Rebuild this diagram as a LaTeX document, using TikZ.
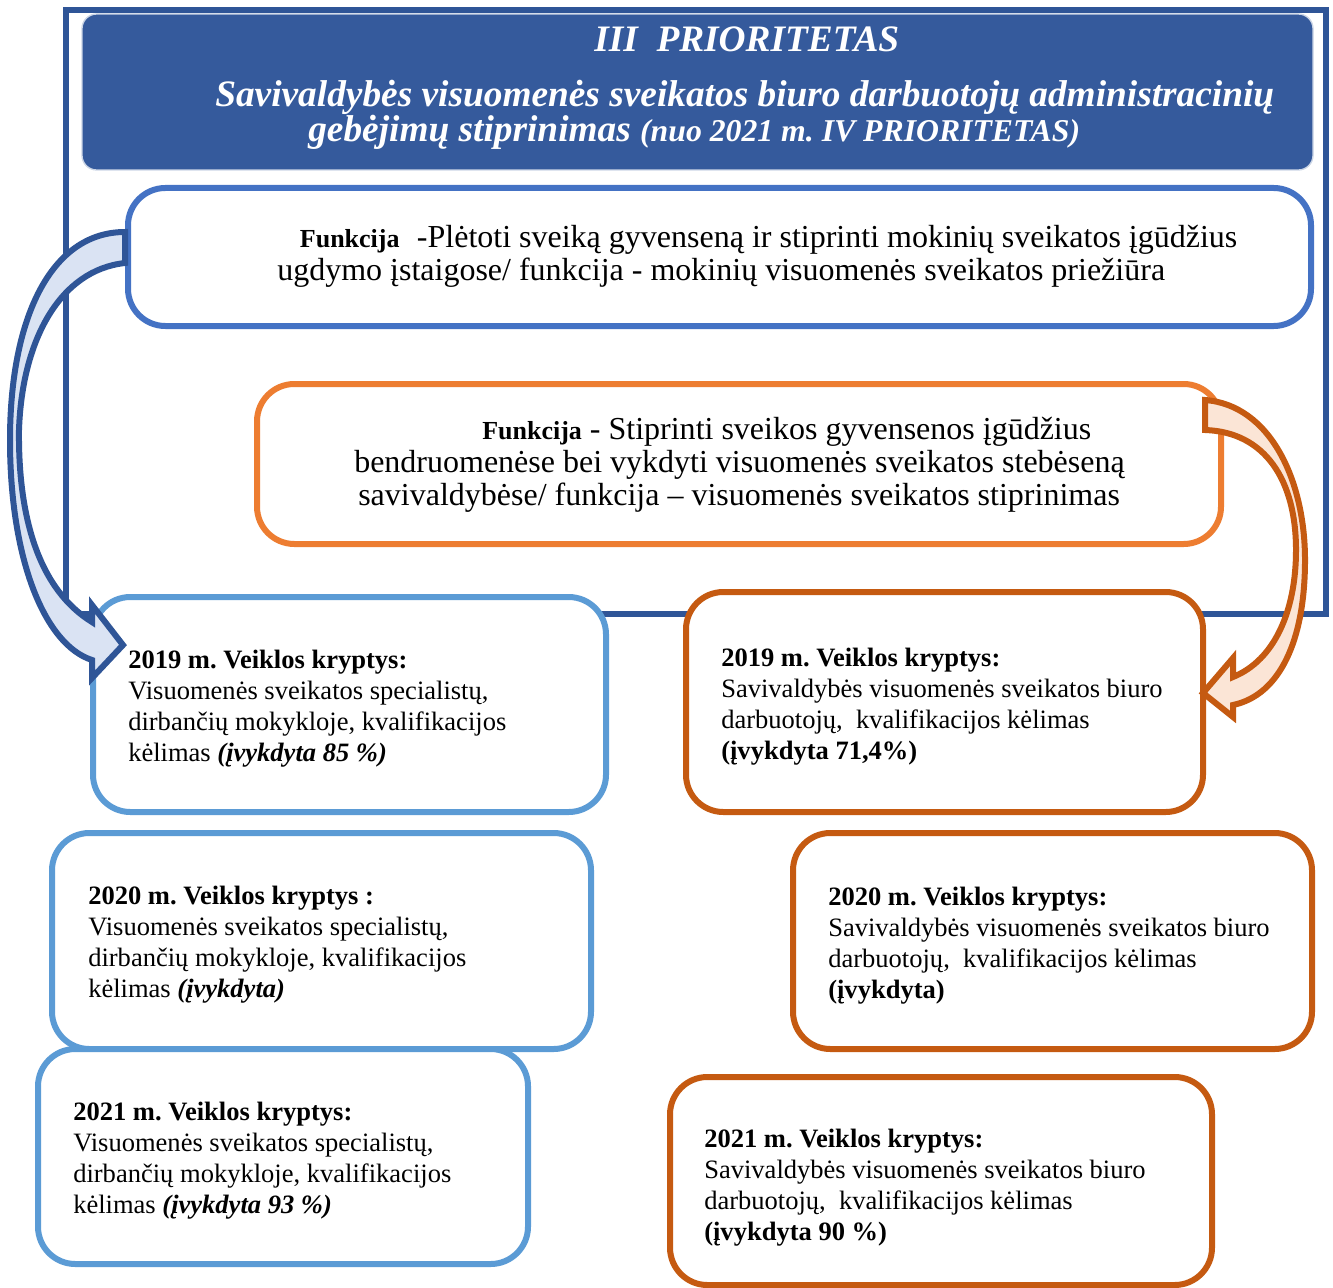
\documentclass[tikz,border=0pt]{standalone}
\usepackage{fontspec}
\setmainfont{Liberation Serif}
\usetikzlibrary{fit}
\definecolor{frameblue}{HTML}{2F5597}
\definecolor{hdrblue}{HTML}{355A9C}
\definecolor{fblue}{HTML}{4472C4}
\definecolor{lblue}{HTML}{5B9BD5}
\definecolor{forange}{HTML}{ED7D31}
\definecolor{dorange}{HTML}{C55A11}
\definecolor{arrblue}{HTML}{DAE3F3}
\definecolor{arrorange}{HTML}{FBE5D6}
\frenchspacing
\begin{document}
\begin{tikzpicture}[x=0.75pt,y=-0.75pt,
  box/.style={draw, line width=4.5pt, fill=white, inner sep=0pt, rounded corners=28pt},
  bluebox/.style={box, draw=lblue},
  orangebox/.style={box, draw=dorange},
  txt/.style={inner sep=0pt, anchor=north west, align=left, font=\fontsize{19.9}{23.25}\selectfont},
  ftxt/.style={inner sep=0pt, anchor=north west, align=left, font=\fontsize{24}{24.75}\selectfont},
  hdr/.style={inner sep=0pt, anchor=base west, text=white, font=\fontsize{28}{30}\selectfont\bfseries\itshape},
  blockarrow/.style={line width=4.5pt, line join=miter, miter limit=4}
]
\useasboundingbox (0,0) rectangle (1333,1287);
% outer frame
\draw[frameblue, line width=4.5pt] (66,10) rectangle (1326,614);
% header
\node[fill=hdrblue, draw=white!75!hdrblue, line width=1pt, inner sep=0pt, rounded corners=11pt,
      fit={(82,14)(1313,170)}] (header) {};
\node[hdr] (h1) at (594,52) {III\ \ PRIORITETAS};
\node[hdr] (h2) at (215,107) {Savivaldybės visuomenės sveikatos biuro darbuotojų administracinių};
\node[hdr] (h3) at (308,142) {gebėjimų stiprinimas {\fontsize{23.8}{26}\selectfont (nuo 2021 m. IV PRIORITETAS)}};
% function boxes
\node[box, draw=fblue, fit={(128,188)(1311,326)}] (f1) {};
\node[box, draw=forange, fit={(257,384)(1221,544)}] (f2) {};
\node[ftxt] (f1t) at (277,225) {\hspace*{17pt}{\fontsize{19.5}{20}\selectfont\bfseries Funkcija}\hspace{13pt}-Plėtoti sveiką gyvenseną ir stiprinti mokinių sveikatos įgūdžius\\
ugdymo įstaigose/ funkcija - mokinių visuomenės sveikatos priežiūra};
\node[ftxt] (f2t) at (354,417) {\hspace*{96pt}{\fontsize{19.5}{20}\selectfont\bfseries Funkcija} - Stiprinti sveikos gyvensenos įgūdžius\\
bendruomenėse bei vykdyti visuomenės sveikatos stebėseną\\
\hspace*{3pt}savivaldybėse/ funkcija – visuomenės sveikatos stiprinimas};
% left boxes
\node[bluebox, fit={(93,597)(606,812)}] (l19) {};
\node[bluebox, fit={(52,833)(591,1049)}] (l20) {};
\node[bluebox, fit={(38,1049)(528,1264)}] (l21) {};
% right boxes
\node[orangebox, fit={(686,592)(1203,812)}] (r19) {};
\node[orangebox, fit={(793,833)(1312,1049)}] (r20) {};
\node[orangebox, fit={(670,1077)(1212,1285)}] (r21) {};
% texts
\node[txt] (l19t) at (128,650) {\textbf{2019 m. Veiklos kryptys:}\\Visuomenės sveikatos specialistų,\\dirbančių mokykloje, kvalifikacijos\\kėlimas \textbf{\textit{(įvykdyta 85 \%)}}};
\node[txt] (l20t) at (88,886) {\textbf{2020 m. Veiklos kryptys :}\\Visuomenės sveikatos specialistų,\\dirbančių mokykloje, kvalifikacijos\\kėlimas \textbf{\textit{(įvykdyta)}}};
\node[txt] (l21t) at (73,1102) {\textbf{2021 m. Veiklos kryptys:}\\Visuomenės sveikatos specialistų,\\dirbančių mokykloje, kvalifikacijos\\kėlimas \textbf{\textit{(įvykdyta 93 \%)}}};
\node[txt] (r19t) at (721,648) {\textbf{2019 m. Veiklos kryptys:}\\Savivaldybės visuomenės sveikatos biuro\\darbuotojų,\ \ kvalifikacijos kėlimas\\\textbf{(įvykdyta 71,4\%)}};
\node[txt] (r20t) at (828,887) {\textbf{2020 m. Veiklos kryptys:}\\Savivaldybės visuomenės sveikatos biuro\\darbuotojų,\ \ kvalifikacijos kėlimas\\\textbf{(įvykdyta)}};
\node[txt] (r21t) at (704,1129) {\textbf{2021 m. Veiklos kryptys:}\\Savivaldybės visuomenės sveikatos biuro\\darbuotojų,\ \ kvalifikacijos kėlimas\\\textbf{(įvykdyta 90 \%)}};
% left curved block arrow
\draw[blockarrow, draw=frameblue, fill=arrblue]
  (125,232) .. controls (50,232) and (10,320) .. (10,440)
  .. controls (10,560) and (45,645) .. (92,660)
  -- (92,678) -- (123,645) -- (92,605) -- (92,622)
  .. controls (40,590) and (18,520) .. (19,430)
  .. controls (22,340) and (60,270) .. (125,263) -- cycle;
% right curved block arrow
\draw[blockarrow, draw=dorange, fill=arrorange]
  (1205,400) .. controls (1270,405) and (1305,480) .. (1305,560)
  .. controls (1305,640) and (1280,695) .. (1233,705)
  -- (1233,717) -- (1203,693) -- (1233,658) -- (1233,677)
  .. controls (1275,660) and (1296,610) .. (1296,550)
  .. controls (1296,480) and (1265,432) .. (1205,430) -- cycle;
\end{tikzpicture}
\end{document}
